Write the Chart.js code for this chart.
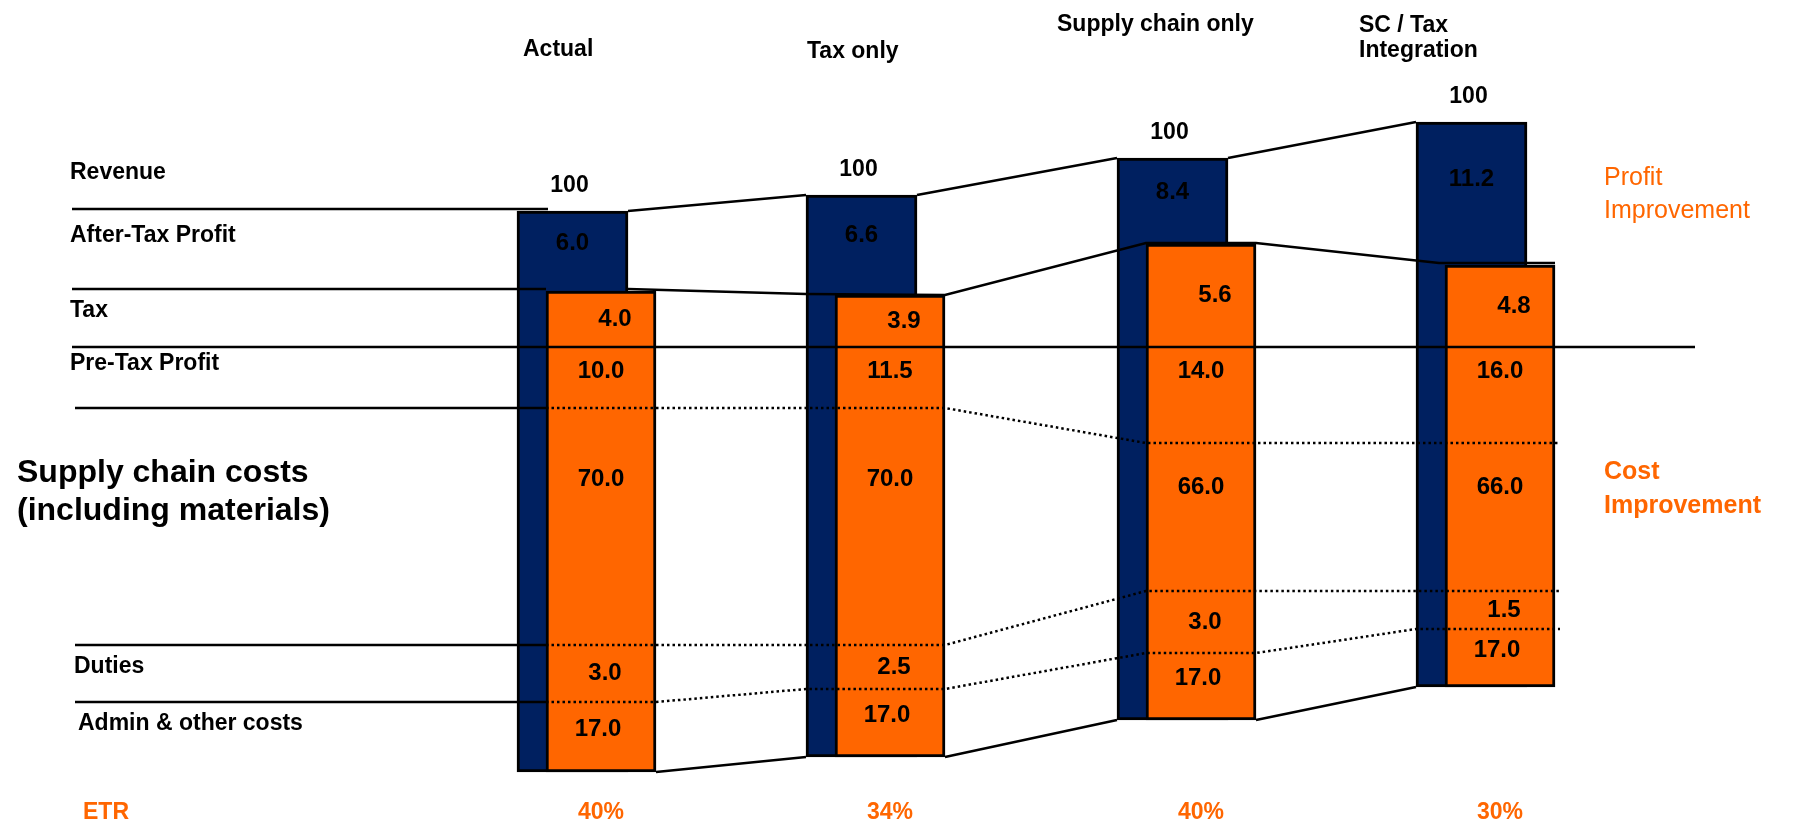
<!DOCTYPE html>
<html lang="en">

<head>
    <meta charset="UTF-8">
    <title>SC / Tax Integration</title>
    <script src="https://cdn.jsdelivr.net/npm/chart.js@4/dist/chart.umd.min.js"></script>
    <style>
        body { margin: 0; background: white; }
        #caixa { width: 1807px; height: 823px; }
    </style>
</head>

<body>
    <div id="caixa"><canvas id="grafico"></canvas></div>
</body>

</html>

<script>
    // data
    var cenarios = ['Actual', 'Tax only', 'Supply chain only', ['SC / Tax', 'Integration']]
    var receita = [100, 100, 100, 100]
    var lucro_liquido = [6.0, 6.6, 8.4, 11.2]
    var imposto = [4.0, 3.9, 5.6, 4.8]
    var lucro_bruto = [10.0, 11.5, 14.0, 16.0]
    var custo_sc = [70.0, 70.0, 66.0, 66.0]
    var tarifas = [3.0, 2.5, 3.0, 1.5]
    var custo_admin = [17.0, 17.0, 17.0, 17.0]
    var etr = ['40%', '34%', '40%', '30%']
    var linhas = ['Revenue', 'After-Tax Profit', 'Tax', 'Pre-Tax Profit', ['Supply chain costs', '(including materials)'], 'Duties', 'Admin & other costs']

    // layout of the slide (diagram units, y grows downward)
    var col_esq = [517, 806, 1117, 1416]
    var col_topo = [211, 195, 158, 122]
    var laranja_topo = [291, 295, 244, 265]
    var sc_topo = [408, 408, 443, 443]
    var tarifa_topo = [645, 645, 591, 591]
    var admin_topo = [702, 689, 653, 629]
    var col_base = [772, 757, 720, 687]
    var linha_pretax = 347
    var larg_azul = 111
    var larg_laranja = 110
    var desloc = 29
    var titulo_x = [523, 807, 1057, 1359]
    var titulo_y = [50, 52, 25, 26]
    var linha_y = [173, 236, 311, 364, 473, 667, 724]

    var AZUL = '#002060'
    var LARANJA = '#FF6600'
    var FONTE = '"Liberation Sans", Arial, sans-serif'

    function esq_laranja(i) { return col_esq[i] + desloc }
    function dir_laranja(i) { return col_esq[i] + desloc + larg_laranja }
    function dir_azul(i) { return col_esq[i] + larg_azul }

    var datasets = []

    datasets.push({
        type: 'bar',
        order: 3,
        data: col_esq.map(function (x, i) { return { x: x + larg_azul / 2, y: [col_topo[i], col_base[i]] } }),
        backgroundColor: AZUL,
        borderColor: 'black',
        borderWidth: 3,
        borderSkipped: false,
        barThickness: larg_azul,
        grouped: false
    })

    datasets.push({
        type: 'bar',
        order: 2,
        data: col_esq.map(function (x, i) { return { x: esq_laranja(i) + larg_laranja / 2, y: [laranja_topo[i], col_base[i]] } }),
        backgroundColor: LARANJA,
        borderColor: 'black',
        borderWidth: 3,
        borderSkipped: false,
        barThickness: larg_laranja,
        grouped: false
    })

    function linha(pontos, pontilhada) {
        datasets.push({
            type: 'line',
            order: 0,
            data: pontos.map(function (p) { return { x: p[0], y: p[1] } }),
            borderColor: 'black',
            borderWidth: 2.5,
            borderDash: pontilhada ? [2.5, 3] : [],
            pointRadius: 0,
            fill: false,
            tension: 0
        })
    }

    // row lines on the left
    linha([[72, col_topo[0] - 2], [esq_laranja(0) + 2, col_topo[0] - 2]])
    linha([[72, laranja_topo[0] - 2], [esq_laranja(0), laranja_topo[0] - 2]])
    linha([[75, sc_topo[0]], [esq_laranja(0), sc_topo[0]]])
    linha([[75, tarifa_topo[0]], [esq_laranja(0), tarifa_topo[0]]])
    linha([[75, admin_topo[0]], [esq_laranja(0), admin_topo[0]]])
    linha([[72, linha_pretax], [1695, linha_pretax]])

    // connectors between columns
    for (var i = 0; i < 3; i++) {
        linha([[dir_azul(i), col_topo[i]], [col_esq[i + 1], col_topo[i + 1]]])
        linha([[dir_laranja(i), col_base[i]], [col_esq[i + 1], col_base[i + 1]]])
    }
    linha([
        [dir_azul(0), laranja_topo[0] - 2],
        [col_esq[1], laranja_topo[1] - 1], [dir_laranja(1), laranja_topo[1]],
        [esq_laranja(2), laranja_topo[2] - 1], [dir_laranja(2), laranja_topo[2] - 1],
        [esq_laranja(3) - 6, laranja_topo[3] - 2], [dir_laranja(3), laranja_topo[3] - 2]
    ])

    // dotted lines
    linha([[esq_laranja(0), sc_topo[0]], [dir_laranja(1), sc_topo[1]], [esq_laranja(2), sc_topo[2]], [dir_laranja(3) + 5, sc_topo[3]]], true)
    linha([[esq_laranja(0), tarifa_topo[0]], [dir_laranja(1), tarifa_topo[1]], [esq_laranja(2), tarifa_topo[2]], [dir_laranja(3) + 5, tarifa_topo[3]]], true)
    linha([
        [esq_laranja(0), admin_topo[0]], [dir_laranja(0), admin_topo[0]],
        [col_esq[1], admin_topo[1]], [dir_laranja(1), admin_topo[1]],
        [esq_laranja(2), admin_topo[2]], [dir_laranja(2), admin_topo[2]],
        [col_esq[3], admin_topo[3]], [dir_laranja(3) + 5, admin_topo[3]]
    ], true)

    const plugin_textos = {
        id: 'textos',
        afterDatasetsDraw(chart) {
            const ctx = chart.ctx
            const sx = chart.scales.x
            const sy = chart.scales.y

            function escreve(txt, x, y, fonte, cor, alinha) {
                ctx.save()
                ctx.font = fonte
                ctx.fillStyle = cor
                ctx.textAlign = alinha || 'center'
                ctx.textBaseline = 'middle'
                ctx.fillText(txt, sx.getPixelForValue(x), sy.getPixelForValue(y))
                ctx.restore()
            }

            const f23 = 'bold 23px ' + FONTE
            const f24 = 'bold 24px ' + FONTE

            // titles
            cenarios.forEach(function (t, i) {
                var partes = Array.isArray(t) ? t : [t]
                partes.forEach(function (p, k) {
                    escreve(p, titulo_x[i], titulo_y[i] + k * 25, f23, 'black', 'left')
                })
            })

            // row labels
            linhas.forEach(function (t, i) {
                if (Array.isArray(t)) {
                    escreve(t[0], 17, linha_y[i], 'bold 32px ' + FONTE, 'black', 'left')
                    escreve(t[1], 17, linha_y[i] + 38, 'bold 32px ' + FONTE, 'black', 'left')
                } else {
                    escreve(t, i >= 5 ? 74 + (i - 5) * 4 : 70, linha_y[i], f23, 'black', 'left')
                }
            })

            col_esq.forEach(function (x, i) {
                var cx_azul = x + larg_azul / 2
                var cx = esq_laranja(i) + larg_laranja / 2
                escreve(String(receita[i]), cx_azul - 3, col_topo[i] - 25, f23, 'black')
                escreve(lucro_liquido[i].toFixed(1), cx_azul, col_topo[i] + 0.4 * (laranja_topo[i] - col_topo[i]), f24, 'black')
                escreve(imposto[i].toFixed(1), cx + 14, (laranja_topo[i] + linha_pretax) / 2, f24, 'black')
                escreve(lucro_bruto[i].toFixed(1), cx, linha_pretax + 24, f24, 'black')
                escreve(custo_sc[i].toFixed(1), cx, sc_topo[i] + 0.3 * (tarifa_topo[i] - sc_topo[i]), f24, 'black')
                escreve(tarifas[i].toFixed(1), cx + 4, (tarifa_topo[i] + admin_topo[i]) / 2, f24, 'black')
                escreve(custo_admin[i].toFixed(1), cx - 3, (admin_topo[i] + col_base[i]) / 2 - 8, f24, 'black')
                escreve(etr[i], cx, 813, f23, LARANJA)
            })

            escreve('ETR', 83, 813, f23, LARANJA, 'left')
            escreve('Profit', 1604, 178, '25px ' + FONTE, LARANJA, 'left')
            escreve('Improvement', 1604, 211, '25px ' + FONTE, LARANJA, 'left')
            escreve('Cost', 1604, 472, 'bold 25px ' + FONTE, LARANJA, 'left')
            escreve('Improvement', 1604, 506, 'bold 25px ' + FONTE, LARANJA, 'left')
        }
    }

    const config = {
        type: 'bar',
        data: { datasets: datasets },
        options: {
            responsive: true,
            maintainAspectRatio: false,
            animation: false,
            layout: { padding: 0 },
            plugins: { legend: { display: false }, tooltip: { enabled: false } },
            scales: {
                x: { type: 'linear', min: 0, max: 1807, offset: false, display: false },
                y: { type: 'linear', min: 0, max: 823, reverse: true, display: false }
            }
        },
        plugins: [plugin_textos]
    }

    const myChart = new Chart(document.getElementById('grafico'), config)
</script>
